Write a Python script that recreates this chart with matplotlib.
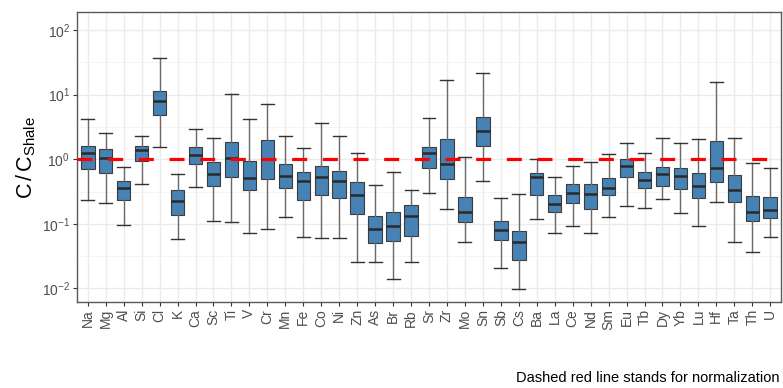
import numpy as np
import matplotlib.pyplot as plt
from matplotlib.ticker import FixedLocator, NullFormatter

elements = ['Na', 'Mg', 'Al', 'Si', 'Cl', 'K', 'Ca', 'Sc', 'Ti', 'V', 'Cr', 'Mn', 'Fe',
            'Co', 'Ni', 'Zn', 'As', 'Br', 'Rb', 'Sr', 'Zr', 'Mo', 'Sn', 'Sb', 'Cs', 'Ba',
            'La', 'Ce', 'Nd', 'Sm', 'Eu', 'Tb', 'Dy', 'Yb', 'Lu', 'Hf', 'Ta', 'Th', 'U']

# boxplot statistics of C / C_shale
whis_lo = [0.23, 0.21, 0.097, 0.416, 1.57, 0.059, 0.378, 0.111, 0.106, 0.073, 0.084, 0.127, 0.063,
           0.061, 0.061, 0.026, 0.026, 0.014, 0.0255, 0.305, 0.167, 0.053, 0.457, 0.021, 0.0099, 0.119,
           0.073, 0.092, 0.072, 0.128, 0.192, 0.175, 0.24, 0.146, 0.094, 0.22, 0.053, 0.037, 0.0615]
q1 = [0.70, 0.61, 0.23, 0.95, 4.91, 0.135, 0.85, 0.38, 0.54, 0.336, 0.50, 0.365, 0.235,
      0.28, 0.25, 0.143, 0.051, 0.055, 0.064, 0.74, 0.49, 0.106, 1.63, 0.057, 0.028, 0.28,
      0.151, 0.209, 0.167, 0.284, 0.53, 0.365, 0.387, 0.348, 0.25, 0.45, 0.22, 0.109, 0.124]
med = [1.27, 1.04, 0.365, 1.38, 8.08, 0.224, 1.17, 0.60, 1.04, 0.52, 1.01, 0.55, 0.457,
       0.54, 0.46, 0.284, 0.084, 0.094, 0.131, 1.24, 0.84, 0.155, 2.74, 0.080, 0.053, 0.54,
       0.206, 0.30, 0.291, 0.36, 0.79, 0.485, 0.59, 0.55, 0.39, 0.74, 0.33, 0.155, 0.163]
q3 = [1.61, 1.43, 0.457, 1.61, 11.5, 0.33, 1.57, 0.90, 1.85, 0.95, 1.97, 0.83, 0.63,
      0.79, 0.66, 0.446, 0.133, 0.153, 0.199, 1.53, 2.06, 0.265, 4.57, 0.109, 0.077, 0.62,
      0.277, 0.41, 0.416, 0.51, 1.01, 0.63, 0.77, 0.72, 0.62, 1.90, 0.57, 0.274, 0.26]
whis_hi = [4.25, 2.58, 0.75, 2.27, 36.9, 0.60, 2.98, 2.16, 10.2, 4.2, 7.17, 2.27, 1.48,
           3.6, 2.27, 1.25, 0.40, 0.63, 0.33, 4.3, 17.1, 1.09, 21.4, 0.25, 0.29, 1.0,
           0.53, 0.79, 0.91, 1.19, 1.79, 1.25, 2.16, 1.79, 2.06, 15.5, 2.16, 0.87, 0.73]

plt.rcParams['font.family'] = ['Liberation Sans', 'DejaVu Sans']
plt.rcParams['mathtext.fontset'] = 'custom'
plt.rcParams['mathtext.rm'] = 'Liberation Sans'
plt.rcParams['mathtext.it'] = 'Liberation Sans'

fig = plt.figure(figsize=(7.83, 3.88), dpi=100)
ax = fig.add_axes([77 / 783, 1 - 302 / 388, 704 / 783, 290 / 388])

stats = []
for i in range(len(elements)):
    stats.append(dict(label=elements[i], whislo=whis_lo[i], q1=q1[i], med=med[i],
                      q3=q3[i], whishi=whis_hi[i], fliers=[]))

pos = np.arange(1, len(elements) + 1)
ax.bxp(stats, positions=pos, widths=0.75, capwidths=0.72, patch_artist=True,
       showfliers=False,
       boxprops=dict(facecolor='#4682b4', edgecolor='#3c3c3c', linewidth=0.8),
       medianprops=dict(color='#2a2a2a', linewidth=1.8),
       whiskerprops=dict(color='#6a6a6a', linewidth=1.0),
       capprops=dict(color='#333333', linewidth=1.0))

ax.axhline(1, color='red', lw=2.3, linestyle=(0, (4.7, 4.9)), zorder=5)

ax.set_yscale('log')
ax.set_ylim(10 ** -2.21, 10 ** 2.28)
ax.set_xlim(0.4, len(elements) + 0.6)
ax.yaxis.set_major_locator(FixedLocator([10.0 ** k for k in range(-2, 3)]))
ax.set_yticklabels([r'$\mathregular{10^{%d}}$' % k for k in range(-2, 3)])
ax.yaxis.set_minor_locator(FixedLocator([10.0 ** (k + 0.5) for k in range(-3, 3)]))
ax.yaxis.set_minor_formatter(NullFormatter())
ax.set_xticks(pos)
ax.set_xticklabels(elements, rotation=90)

ax.set_axisbelow(True)
ax.grid(which='major', color='#ebebeb', lw=1.0)
ax.grid(which='minor', axis='y', color='#f3f3f3', lw=0.6)
ax.tick_params(which='major', direction='out', length=3, color='#333333',
               labelcolor='#4d4d4d', labelsize=10, pad=2)
ax.tick_params(which='minor', length=0)
for s in ax.spines.values():
    s.set_color('#5a5a5a')
    s.set_linewidth(1.0)

fig.text(26 / 783, 1 - 157 / 388, r'$\mathregular{C\,/\,C_{Shale}}$', rotation=90,
         ha='center', va='center', fontsize=15.5)
fig.text(780 / 783, 1 - 378 / 388, 'Dashed red line stands for normalization',
         ha='right', va='center', fontsize=10.5)

fig.savefig('out.png', dpi=100)
